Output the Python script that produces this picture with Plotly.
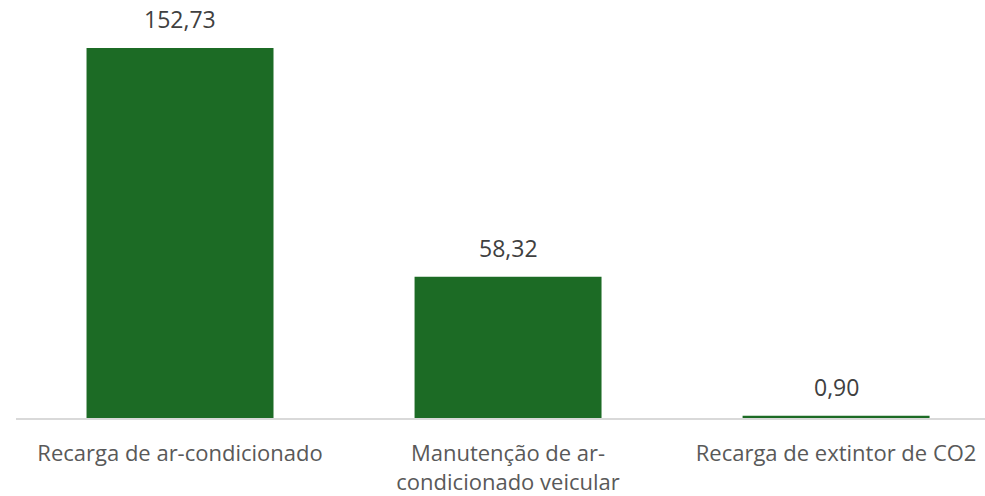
import plotly.graph_objects as go

categories = ["Recarga de ar-condicionado", "Manutenção de ar-<br>condicionado veicular", "Recarga de extintor de CO2"]
values = [152.73, 58.32, 0.90]
labels = ["152,73", "58,32", "0,90"]

fig = go.Figure()
fig.add_trace(go.Bar(
    x=categories, y=values, width=0.57,
    marker=dict(color="#1C6B25", line=dict(width=0)),
    hoverinfo="skip",
))
for c, v, t in zip(categories, values, labels):
    fig.add_annotation(x=c, y=v, text=t, showarrow=False, yanchor="bottom", yshift=11,
                       font=dict(family="Open Sans", size=23, color="#404040"))

fig.update_layout(
    width=985, height=496,
    margin=dict(l=16, r=0, t=0, b=78),
    plot_bgcolor="white", paper_bgcolor="white",
    showlegend=False,
    bargap=0.43,
)
fig.update_xaxes(
    range=[-0.5, 2.454], showgrid=False, showline=True, linecolor="#D9D9D9", linewidth=1.5,
    ticks="", ticklabelstandoff=15, automargin=False,
    tickfont=dict(family="Open Sans", size=22, color="#595959"),
)
fig.update_yaxes(range=[0, 172.5], visible=False, showgrid=False, zeroline=False, automargin=False)

fig.write_html("out.html")
